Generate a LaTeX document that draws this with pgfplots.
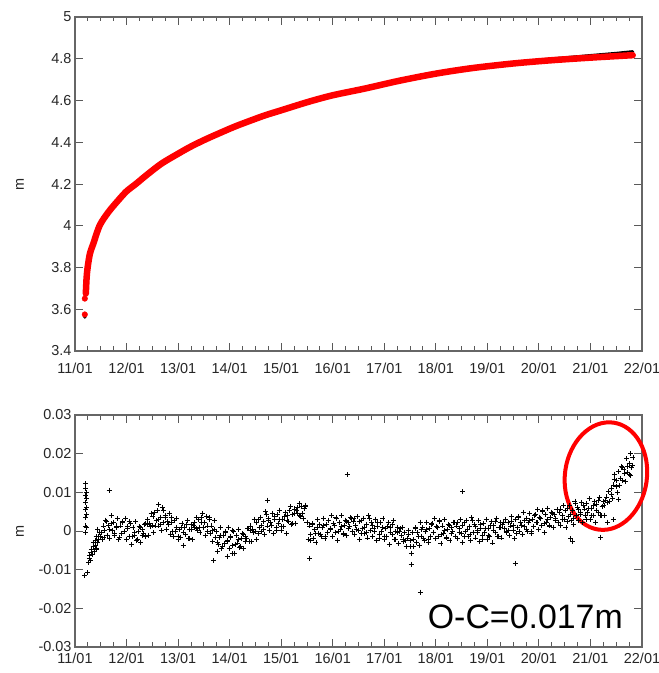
\documentclass[border=0pt]{standalone}
\usepackage{fontspec}
\setmainfont{Liberation Sans}
\usepackage{pgfplots}
\usepackage{pgfplotstable}
\pgfplotsset{compat=1.18}

% O-C residuals, x in days of January, oc in mm
\pgfplotstableread[row sep=\\]{
x oc\\
11.20 12.2\\ 11.21 11.0\\ 11.22 10.0\\ 11.20 9.2\\ 11.22 8.5\\ 11.21 7.5\\ 11.23 6.2\\ 11.20 5.5\\
11.22 4.3\\ 11.21 3.6\\ 11.20 1.3\\ 11.22 0.8\\ 11.21 -0.3\\ 11.19 -11.5\\ 11.25 -10.8\\
11.27 -8.2\\ 11.28 -7.0\\ 11.29 -6.2\\ 11.30 -7.5\\ 11.31 -5.5\\ 11.32 -4.8\\ 11.33 -6.0\\
11.35 -4.0\\ 11.36 -3.0\\ 11.38 -5.2\\ 11.39 -2.5\\ 11.41 -1.5\\ 11.43 -3.0\\ 11.44 0.5\\
11.66 10.6\\ 12.62 6.8\\ 13.69 -7.6\\ 13.76 -5.2\\ 13.95 -6.5\\ 14.05 -5.8\\ 14.74 8.0\\
15.55 -7.0\\ 16.28 14.6\\ 17.52 -8.6\\ 17.70 -15.8\\ 18.52 10.2\\ 19.54 -8.4\\ 20.62 -2.0\\
20.66 -2.8\\ 21.20 -1.6\\ 21.33 2.3\\ 21.45 3.0\\ 21.55 8.2\\ 21.78 20.0\\
11.400 -3.8\\ 11.425 -4.7\\ 11.450 -2.2\\ 11.475 -0.3\\ 11.500 -1.5\\ 11.525 -2.2\\ 11.550 1.3\\
11.575 0.2\\ 11.600 2.8\\ 11.625 -1.1\\ 11.650 1.4\\ 11.675 -1.9\\ 11.700 4.0\\ 11.725 0.2\\
11.750 2.2\\ 11.775 -1.2\\ 11.800 0.8\\ 11.825 3.2\\ 11.850 -2.2\\ 11.875 1.3\\ 11.900 -0.6\\
11.925 2.4\\ 11.950 0.0\\ 11.975 3.3\\ 12.000 -2.1\\ 12.025 0.6\\ 12.050 -1.5\\ 12.075 2.0\\
12.100 -3.5\\ 12.125 0.9\\ 12.150 -1.1\\ 12.175 2.4\\ 12.200 -2.4\\ 12.225 -0.2\\ 12.250 1.1\\
12.275 -2.9\\ 12.300 0.4\\ 12.325 -0.6\\ 12.350 1.7\\ 12.375 -1.3\\ 12.400 1.7\\ 12.425 -1.1\\
12.450 1.9\\ 12.475 4.6\\ 12.500 1.4\\ 12.525 -0.5\\ 12.550 4.8\\ 12.575 2.7\\ 12.600 5.2\\
12.625 1.3\\ 12.650 3.6\\ 12.675 0.2\\ 12.700 6.0\\ 12.725 2.1\\ 12.750 4.0\\ 12.775 0.5\\
12.800 2.4\\ 12.825 4.6\\ 12.850 -0.8\\ 12.875 2.3\\ 12.900 0.0\\ 12.925 2.6\\ 12.950 -0.1\\
12.975 3.2\\ 13.000 -2.2\\ 13.025 0.5\\ 13.050 -1.6\\ 13.075 1.9\\ 13.100 -3.7\\ 13.125 0.9\\
13.150 -1.0\\ 13.175 2.7\\ 13.200 -2.0\\ 13.225 0.3\\ 13.250 1.6\\ 13.275 -2.1\\ 13.300 1.5\\
13.325 0.8\\ 13.350 3.4\\ 13.375 0.2\\ 13.400 3.0\\ 13.425 -0.3\\ 13.450 2.3\\ 13.475 4.6\\
13.500 1.0\\ 13.525 -1.2\\ 13.550 3.8\\ 13.575 1.3\\ 13.600 3.6\\ 13.625 -0.7\\ 13.650 1.3\\
13.675 -2.6\\ 13.700 2.7\\ 13.725 -1.6\\ 13.750 -0.1\\ 13.775 -3.5\\ 13.800 -1.6\\ 13.825 0.8\\
13.850 -4.6\\ 13.875 -1.2\\ 13.900 -3.2\\ 13.925 -0.1\\ 13.950 -2.5\\ 13.975 0.9\\ 14.000 -4.5\\
14.025 -1.7\\ 14.050 -3.7\\ 14.075 -0.2\\ 14.100 -5.7\\ 14.125 -1.2\\ 14.150 -3.1\\ 14.175 0.5\\
14.200 -4.2\\ 14.225 -2.0\\ 14.250 -0.6\\ 14.275 -4.6\\ 14.300 -1.3\\ 14.325 -2.0\\ 14.350 0.6\\
14.375 -2.6\\ 14.400 0.2\\ 14.425 -2.7\\ 14.450 0.3\\ 14.475 3.1\\ 14.500 -0.1\\ 14.525 -2.2\\
14.550 2.9\\ 14.575 0.9\\ 14.600 3.6\\ 14.625 -0.2\\ 14.650 2.4\\ 14.675 -0.9\\ 14.700 5.0\\
14.725 1.3\\ 14.750 3.3\\ 14.775 0.1\\ 14.800 2.1\\ 14.825 4.6\\ 14.850 -0.7\\ 14.875 2.9\\
14.900 1.0\\ 14.925 4.2\\ 14.950 2.0\\ 14.975 5.4\\ 15.000 0.2\\ 15.025 3.1\\ 15.050 1.2\\
15.075 4.8\\ 15.100 -0.6\\ 15.125 4.1\\ 15.150 2.4\\ 15.175 6.3\\ 15.200 1.8\\ 15.225 4.2\\
15.250 5.7\\ 15.275 1.9\\ 15.300 5.4\\ 15.325 4.6\\ 15.350 7.1\\ 15.375 3.7\\ 15.400 6.4\\
15.425 3.3\\ 15.450 5.9\\ 15.475 6.7\\ 15.500 2.1\\ 15.525 -2.1\\ 15.550 1.3\\ 15.575 -0.8\\
15.600 1.9\\ 15.625 -2.0\\ 15.650 0.4\\ 15.675 -3.0\\ 15.700 2.9\\ 15.725 -0.6\\ 15.750 1.7\\
15.775 -1.4\\ 15.800 0.9\\ 15.825 3.3\\ 15.850 -2.0\\ 15.875 1.6\\ 15.900 -0.3\\ 15.925 2.8\\
15.950 0.6\\ 15.975 4.0\\ 16.000 -1.3\\ 16.025 1.5\\ 16.050 -0.5\\ 16.075 3.2\\ 16.100 -2.4\\
16.125 2.2\\ 16.150 0.3\\ 16.175 3.9\\ 16.200 -0.8\\ 16.225 1.5\\ 16.250 2.8\\ 16.275 -1.2\\
16.300 2.1\\ 16.325 1.1\\ 16.350 3.4\\ 16.375 -0.2\\ 16.400 2.4\\ 16.425 -1.0\\ 16.450 1.5\\
16.475 3.8\\ 16.500 0.2\\ 16.525 -2.1\\ 16.550 2.8\\ 16.575 0.7\\ 16.600 3.3\\ 16.625 -0.7\\
16.650 1.7\\ 16.675 -1.8\\ 16.700 4.0\\ 16.725 0.1\\ 16.750 2.1\\ 16.775 -1.3\\ 16.800 0.7\\
16.825 3.0\\ 16.850 -2.4\\ 16.875 1.1\\ 16.900 -0.9\\ 16.925 2.2\\ 16.950 -0.2\\ 16.975 3.2\\
17.000 -2.2\\ 17.025 0.6\\ 17.050 -1.5\\ 17.075 2.1\\ 17.100 -3.5\\ 17.125 1.0\\ 17.150 -1.0\\
17.175 2.6\\ 17.200 -2.2\\ 17.225 -0.2\\ 17.250 1.0\\ 17.275 -3.2\\ 17.300 0.0\\ 17.325 -1.2\\
17.350 1.0\\ 17.375 -2.7\\ 17.400 -0.3\\ 17.425 -4.0\\ 17.450 -1.9\\ 17.475 0.1\\ 17.500 -3.9\\
17.525 -5.7\\ 17.550 -0.5\\ 17.575 -2.2\\ 17.600 0.8\\ 17.625 -3.0\\ 17.650 -0.4\\ 17.675 -3.7\\
17.700 2.3\\ 17.725 -1.4\\ 17.750 0.8\\ 17.775 -2.4\\ 17.800 -0.2\\ 17.825 2.3\\ 17.850 -3.0\\
17.875 0.6\\ 17.900 -1.3\\ 17.925 2.0\\ 17.950 -0.3\\ 17.975 3.2\\ 18.000 -2.0\\ 18.025 0.8\\
18.050 -1.3\\ 18.075 2.4\\ 18.100 -3.2\\ 18.125 1.3\\ 18.150 -0.7\\ 18.175 2.9\\ 18.200 -1.8\\
18.225 0.4\\ 18.250 1.7\\ 18.275 -2.4\\ 18.300 0.9\\ 18.325 -0.1\\ 18.350 2.3\\ 18.375 -1.3\\
18.400 1.3\\ 18.425 -2.0\\ 18.450 0.6\\ 18.475 2.9\\ 18.500 -0.7\\ 18.525 -2.9\\ 18.550 2.1\\
18.575 0.0\\ 18.600 2.6\\ 18.625 -1.3\\ 18.650 1.1\\ 18.675 -2.4\\ 18.700 3.4\\ 18.725 -0.4\\
18.750 1.6\\ 18.775 -1.8\\ 18.800 0.2\\ 18.825 2.6\\ 18.850 -2.8\\ 18.875 0.7\\ 18.900 -1.2\\
18.925 2.0\\ 18.950 -0.3\\ 18.975 3.1\\ 19.000 -2.2\\ 19.025 0.7\\ 19.050 -1.3\\ 19.075 2.4\\
19.100 -3.1\\ 19.125 1.5\\ 19.150 -0.4\\ 19.175 3.3\\ 19.200 -1.4\\ 19.225 0.9\\ 19.250 2.2\\
19.275 -1.8\\ 19.300 1.6\\ 19.325 0.6\\ 19.350 3.0\\ 19.375 -0.5\\ 19.400 2.1\\ 19.425 -1.2\\
19.450 1.3\\ 19.475 3.7\\ 19.500 0.1\\ 19.525 -2.0\\ 19.550 3.0\\ 19.575 1.0\\ 19.600 3.7\\
19.625 -0.2\\ 19.650 2.3\\ 19.675 -1.0\\ 19.700 4.9\\ 19.725 1.2\\ 19.750 3.3\\ 19.775 0.0\\
19.800 2.1\\ 19.825 4.6\\ 19.850 -0.7\\ 19.875 3.0\\ 19.900 1.2\\ 19.925 4.3\\ 19.950 2.1\\
19.975 5.6\\ 20.000 0.4\\ 20.025 3.3\\ 20.050 1.4\\ 20.075 5.0\\ 20.100 -0.4\\ 20.125 4.2\\
20.150 2.3\\ 20.175 5.9\\ 20.200 1.3\\ 20.225 3.5\\ 20.250 4.9\\ 20.275 0.9\\ 20.300 4.3\\
20.325 3.3\\ 20.350 5.6\\ 20.375 2.2\\ 20.400 4.7\\ 20.425 1.5\\ 20.450 4.1\\ 20.475 6.5\\
20.500 3.0\\ 20.525 0.8\\ 20.550 5.8\\ 20.575 3.8\\ 20.600 6.5\\ 20.625 2.7\\ 20.650 5.2\\
20.675 1.8\\ 20.700 7.7\\ 20.725 4.0\\ 20.750 6.1\\ 20.775 2.8\\ 20.800 4.9\\ 20.825 7.4\\
20.850 2.1\\ 20.875 5.7\\ 20.900 3.9\\ 20.925 7.0\\ 20.950 4.8\\ 20.975 8.3\\ 21.000 3.0\\
21.025 5.9\\ 21.050 4.0\\ 21.075 7.6\\ 21.100 2.2\\ 21.125 6.8\\ 21.150 4.9\\ 21.175 8.6\\
21.200 4.0\\ 21.225 6.3\\ 21.250 7.6\\ 21.275 4.1\\ 21.300 7.9\\ 21.325 7.4\\ 21.350 10.2\\
21.375 7.6\\ 21.400 11.0\\ 21.425 8.5\\ 21.450 11.9\\ 21.475 14.7\\ 21.500 11.6\\ 21.525 9.9\\
21.550 15.3\\ 21.575 13.6\\ 21.600 16.6\\ 21.625 13.0\\ 21.650 15.8\\ 21.675 12.7\\ 21.700 18.7\\
21.725 15.2\\ 21.750 17.4\\ 21.775 14.3\\ 21.800 16.4\\ 21.825 19.0\\
11.4125 -4.4\\ 11.4625 -1.4\\ 11.5125 -0.4\\ 11.5625 -1.6\\ 11.6125 2.5\\ 11.6625 0.5\\
11.7125 1.9\\ 11.7625 -0.7\\ 11.8125 1.3\\ 11.8625 -1.6\\ 11.9125 2.3\\ 11.9625 -0.2\\
12.0125 1.1\\ 12.0625 2.4\\ 12.1125 -1.3\\ 12.1625 -0.4\\ 12.2125 -2.2\\ 12.2625 0.8\\
12.3125 -1.1\\ 12.3625 1.9\\ 12.4125 2.9\\ 12.4625 1.1\\ 12.5125 3.7\\ 12.5625 1.3\\
12.6125 2.9\\ 12.6625 1.7\\ 12.7125 5.2\\ 12.7625 3.4\\ 12.8125 1.7\\ 12.8625 3.6\\
12.9125 -1.3\\ 12.9625 0.9\\ 13.0125 -1.4\\ 13.0625 1.0\\ 13.1125 -0.5\\ 13.1625 1.8\\
13.2125 -2.0\\ 13.2625 0.5\\ 13.3125 2.3\\ 13.3625 0.6\\ 13.4125 1.0\\ 13.4625 3.4\\
13.5125 2.3\\ 13.5625 -0.1\\ 13.6125 3.1\\ 13.6625 0.1\\ 13.7125 0.4\\ 13.7625 -3.0\\
13.8125 -1.1\\ 13.8625 -4.1\\ 13.9125 -0.3\\ 13.9625 -2.6\\ 14.0125 -1.3\\ 14.0625 0.2\\
14.1125 -3.4\\ 14.1625 -2.3\\ 14.2125 -4.0\\ 14.2625 -0.9\\ 14.3125 -2.7\\ 14.3625 0.7\\
14.4125 1.3\\ 14.4625 -0.5\\ 14.5125 2.2\\ 14.5625 -0.6\\ 14.6125 1.4\\ 14.6625 0.5\\
14.7125 4.2\\ 14.7625 2.8\\ 14.8125 1.5\\ 14.8625 3.8\\ 14.9125 0.1\\ 14.9625 3.0\\
15.0125 1.2\\ 15.0625 3.8\\ 15.1125 2.7\\ 15.1625 5.3\\ 15.2125 1.9\\ 15.2625 4.5\\
15.3125 6.1\\ 15.3625 4.1\\ 15.4125 4.5\\ 15.4625 6.3\\ 15.5125 2.3\\ 15.5625 -2.4\\
15.6125 1.6\\ 15.6625 -0.6\\ 15.7125 1.0\\ 15.7625 -1.0\\ 15.8125 1.4\\ 15.8625 -1.4\\
15.9125 2.6\\ 15.9625 0.5\\ 16.0125 1.9\\ 16.0625 3.5\\ 16.1125 0.0\\ 16.1625 1.1\\
16.2125 -0.6\\ 16.2625 2.5\\ 16.3125 0.6\\ 16.3625 3.3\\ 16.4125 3.2\\ 16.4625 0.5\\
16.5125 2.4\\ 16.5625 -0.7\\ 16.6125 1.0\\ 16.6625 -0.3\\ 16.7125 3.2\\ 16.7625 1.5\\
16.8125 0.0\\ 16.8625 2.1\\ 16.9125 -1.9\\ 16.9625 0.8\\ 17.0125 -1.3\\ 17.0625 1.1\\
17.1125 -0.3\\ 17.1625 1.8\\ 17.2125 -2.3\\ 17.2625 -0.4\\ 17.3125 0.6\\ 17.3625 -2.1\\
17.4125 -2.5\\ 17.4625 -1.0\\ 17.5125 -2.5\\ 17.5625 -4.0\\ 17.6125 0.6\\ 17.6625 -1.4\\
17.7125 0.3\\ 17.7625 -2.0\\ 17.8125 0.4\\ 17.8625 -2.3\\ 17.9125 1.8\\ 17.9625 -0.3\\
18.0125 1.2\\ 18.0625 2.7\\ 18.1125 -0.9\\ 18.1625 0.2\\ 18.2125 -1.6\\ 18.2625 1.4\\
18.3125 -0.6\\ 18.3625 2.2\\ 18.4125 2.2\\ 18.4625 -0.5\\ 18.5125 1.5\\ 18.5625 -1.5\\
18.6125 0.3\\ 18.6625 -0.9\\ 18.7125 2.6\\ 18.7625 1.1\\ 18.8125 -0.4\\ 18.8625 1.8\\
18.9125 -2.2\\ 18.9625 0.7\\ 19.0125 -1.2\\ 19.0625 1.4\\ 19.1125 0.2\\ 19.1625 2.5\\
19.2125 -1.4\\ 19.2625 0.9\\ 19.3125 2.2\\ 19.3625 0.0\\ 19.4125 0.1\\ 19.4625 2.5\\
19.5125 1.4\\ 19.5625 -0.7\\ 19.6125 3.4\\ 19.6625 1.4\\ 19.7125 2.8\\ 19.7625 0.5\\
19.8125 2.7\\ 19.8625 0.0\\ 19.9125 4.1\\ 19.9625 2.1\\ 20.0125 3.6\\ 20.0625 5.3\\
20.1125 1.9\\ 20.1625 3.1\\ 20.2125 1.5\\ 20.2625 4.6\\ 20.3125 2.8\\ 20.3625 5.6\\
20.4125 5.7\\ 20.4625 3.1\\ 20.5125 5.2\\ 20.5625 2.4\\ 20.6125 4.2\\ 20.6625 3.3\\
20.7125 7.0\\ 20.7625 5.6\\ 20.8125 4.3\\ 20.8625 6.6\\ 20.9125 2.9\\ 20.9625 5.8\\
21.0125 4.0\\ 21.0625 6.6\\ 21.1125 5.4\\ 21.1625 7.8\\ 21.2125 4.0\\ 21.2625 6.6\\
21.3125 8.8\\ 21.3625 7.7\\ 21.4125 9.4\\ 21.4625 13.3\\ 21.5125 13.1\\ 21.5625 11.8\\
21.6125 16.4\\ 21.6625 14.9\\ 21.7125 16.7\\ 21.7625 14.7\\ 21.8125 17.0\\
}\octable

\pgfplotsset{
  gp/.style={
    scale only axis, width=567bp,
    xmin=11, xmax=22,
    xtick={11,...,22},
    xticklabels={11/01,12/01,13/01,14/01,15/01,16/01,17/01,18/01,19/01,20/01,21/01,22/01},
    minor x tick num=3,
    tick align=inside,
    major tick length=8bp, minor tick length=4.5bp,
    axis line style={black!60, line width=1.1bp},
    tick style={black!65, line width=0.9bp},
    tick label style={font=\fontsize{14.5}{16}\selectfont, text=black!85},
    label style={font=\fontsize{14.5}{16}\selectfont, text=black!85},
    scaled y ticks=false,
    ylabel={m},
    ylabel style={at={(axis description cs:-0.097,0.5)}, anchor=center},
    clip=false,
  }
}

\begin{document}
\begin{tikzpicture}
\useasboundingbox (0,0) rectangle (659bp,673bp);

\begin{axis}[gp, at={(75bp,322bp)}, anchor=south west, height=334bp,
    ymin=3.4, ymax=5,
    ytick={3.4,3.6,3.8,4,4.2,4.4,4.6,4.8,5},
    yticklabels={3.4,3.6,3.8,4,4.2,4.4,4.6,4.8,5},
    xticklabel style={yshift=-9bp}]
\addplot[black, line width=3bp, line cap=round] coordinates {
  (19.0,4.764) (19.49,4.779) (20.2,4.798) (20.98,4.815) (21.5,4.826) (21.82,4.834)};
\addplot[only marks, mark=*, black, mark size=1.5bp] coordinates {(11.19,3.563)};
\addplot[red, line width=6.5bp, line cap=round, line join=round, smooth, tension=0.5] coordinates {
  (11.21,3.675) (11.225,3.75) (11.245,3.80) (11.29,3.867) (11.355,3.914)
  (11.48,4.002) (11.65,4.066) (11.84,4.122) (12.0,4.165) (12.19,4.202)
  (12.4,4.245) (12.68,4.298) (13.0,4.345) (13.23,4.377) (13.5,4.41) (13.78,4.441)
  (14.1,4.475) (14.42,4.505) (14.7,4.53) (15.0,4.553) (15.52,4.593) (16.0,4.625)
  (16.62,4.657) (17.3,4.695) (18.01,4.729) (18.7,4.755) (19.49,4.777) (20.2,4.792)
  (20.98,4.805) (21.82,4.817)};
\addplot[only marks, mark=*, red, mark size=2.8bp] coordinates {(11.19,3.575) (11.19,3.651)};
\end{axis}

\begin{axis}[gp, at={(75bp,26bp)}, anchor=south west, height=232bp,
    ymin=-0.03, ymax=0.03,
    ytick={-0.03,-0.02,-0.01,0,0.01,0.02,0.03},
    yticklabels={-0.03,-0.02,-0.01,0,0.01,0.02,0.03},
    xticklabel style={yshift=-3bp}]
\addplot[only marks, mark=+, black, mark size=2.5bp, mark options={line width=0.9bp}]
  table[x=x, y expr=\thisrow{oc}/1000] {\octable};
\draw[red, line width=4bp, rotate around={-8:(axis cs:21.3,0.0142)}]
  (axis cs:21.3,0.0142) ellipse [x radius=41bp, y radius=54bp];
\node[anchor=base east, inner sep=0pt, font=\fontsize{34}{40}\selectfont]
  at (axis cs:21.63,-0.0252) {O-C=0.017m};
\end{axis}
\end{tikzpicture}
\end{document}
